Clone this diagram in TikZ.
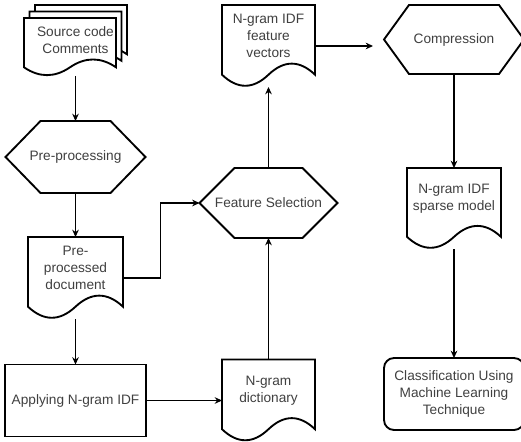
\documentclass[tikz,border=0pt]{standalone}
\usepackage{fontspec}
\setmainfont{Liberation Sans}
\usetikzlibrary{arrows.meta,calc}
\pgfdeclarelayer{background}
\pgfsetlayers{background,main}
\definecolor{txtgray}{HTML}{404040}

% document outline with the wavy bottom, from north west to south east corner
\newcommand{\docline}[2]{%
	\draw[outline] let \p1=#1, \p2=#2, \n1={\y1-\y2}, \n2={\x2-\x1} in
	(\x1,\y1) -- (\x2,\y1) -- (\x2,\y2+0.15*\n1)
	.. controls (\x2-\n2/6,\y2+0.33*\n1) and (\x1+2*\n2/3,\y2+0.33*\n1) .. (\x1+0.5*\n2,\y2+0.15*\n1)
	.. controls (\x1+\n2/3,\y2-0.03*\n1) and (\x1+\n2/6,\y2-0.03*\n1) .. (\x1,\y2+0.15*\n1) -- cycle;}

\begin{document}
\begin{tikzpicture}[x=0.75pt, y=-0.75pt,
		font=\fontsize{10.25}{12.75}\selectfont,
		shp/.style={inner sep=0pt, outer sep=0pt, align=center, text=txtgray},
		doc/.style={shp, minimum width=69.75pt, minimum height=61.5pt},
		doctext/.style={align=center, text=txtgray},
		hexa/.style={shp, minimum width=105pt, minimum height=54pt},
		outline/.style={draw=black, fill=white, line width=1.4pt},
		proc/.style={shp, draw, line width=1.4pt, minimum width=105.75pt, minimum height=54pt},
		arr/.style={-{Stealth[length=5.5pt,width=5pt]}, line width=0.8pt}]

	\useasboundingbox (0,0) rectangle (521,442);

	% left column
	\node[shp, minimum width=77.25pt, minimum height=53.25pt] (src) at (75.5,40.5) {Source code\\Comments};
	\node[hexa] (pre) at (75.5,157) {Pre-processing};
	\node[doc, minimum width=71.25pt] (prep) at (75.5,278) {};
	\node[doctext] (prep-t) at ([yshift=7.5pt]prep.center) {Pre-\\processed\\document};
	\node[proc] (apply) at (75.5,400.5) {Applying N-gram IDF};

	% middle column
	\node[doc] (dict) at (268.5,400.5) {};
	\node[doctext] (dict-t) at ([yshift=7.5pt]dict.center) {N-gram\\dictionary};
	\node[hexa, minimum width=103.5pt, minimum height=52.5pt] (fsel) at (268.5,203) {Feature Selection};
	\node[doc] (vectors) at (268.5,46) {};
	\node[doctext] (vectors-t) at ([yshift=7.5pt]vectors.center) {N-gram IDF\\feature\\vectors};

	% right column
	\node[hexa, minimum height=51.75pt] (comp) at (454,39.5) {Compression};
	\node[doc, minimum width=70.5pt, minimum height=60.75pt] (sparse) at (454,208.5) {};
	\node[doctext] (sparse-t) at ([yshift=7.5pt]sparse.center) {N-gram IDF\\sparse model};
	\node[proc, rounded corners=7.5pt, minimum width=105pt] (cls) at (454,394) {Classification Using\\Machine Learning\\Technique};

	% outlines
	\begin{pgfonlayer}{background}
		\docline{($(src.north west)+(11,0)$)}{($(src.north east)+(0,58)$)}
		\docline{($(src.north west)+(5.5,6.5)$)}{($(src.north east)+(-5.5,64.5)$)}
		\docline{($(src.north west)+(0,13)$)}{($(src.south east)+(-11,0)$)}
		\foreach \d in {prep,dict,vectors,sparse} {
				\docline{(\d.north west)}{(\d.south east)}
			}
		\foreach \hx/\ins in {pre/26.25pt, fsel/26.25pt, comp/18.75pt} {
				\draw[outline] (\hx.west) -- ([xshift=\ins]\hx.north west) -- ([xshift=-\ins]\hx.north east)
				-- (\hx.east) -- ([xshift=-\ins]\hx.south east) -- ([xshift=\ins]\hx.south west) -- cycle;
			}
	\end{pgfonlayer}

	% connectors
	\draw[arr] (src) -- (pre);
	\draw[arr] (pre) -- (prep);
	\draw[arr] (prep.east) -- ++(37.5,0) |- (fsel.west);
	\draw[arr] (prep) -- (apply);
	\draw[arr] (apply) -- (dict);
	\draw[arr] (dict) -- (fsel);
	\draw[arr] (fsel) -- (vectors);
	\draw[arr, shorten >=8.25pt] (vectors.east) -- (vectors.east -| comp.west);
	\draw[arr] (comp) -- (sparse);
	\draw[arr] (sparse) -- (cls);
\end{tikzpicture}
\end{document}
